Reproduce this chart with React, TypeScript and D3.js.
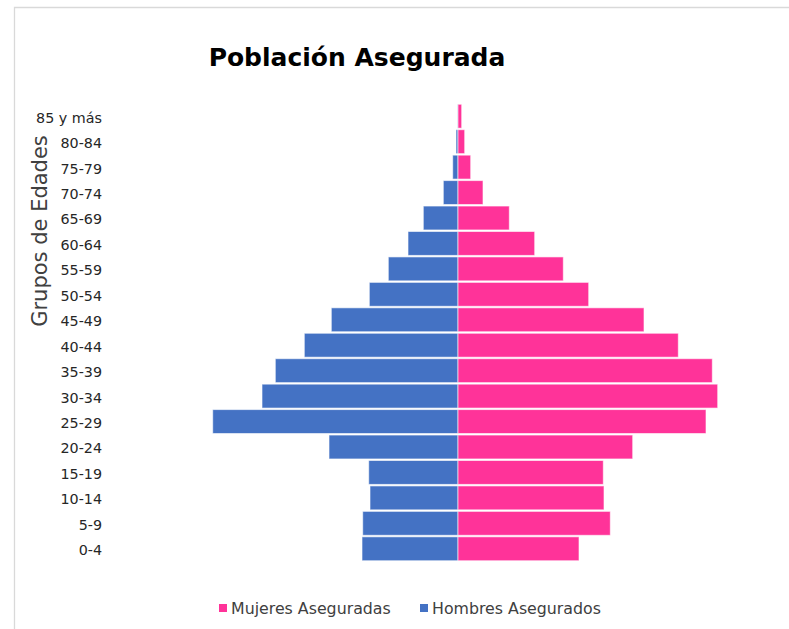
import React, {useEffect, useRef} from "react";
import * as d3 from "d3";

// age groups, bottom to top
const grupos = ["0-4", "5-9", "10-14", "15-19", "20-24", "25-29", "30-34", "35-39", "40-44",
  "45-49", "50-54", "55-59", "60-64", "65-69", "70-74", "75-79", "80-84", "85 y más"];

const hombres = [9600, 9530, 8800, 8930, 12900, 24530, 19600, 18270, 15370,
  12670, 8870, 6970, 5000, 3470, 1470, 530, 200, 50];

const mujeres = [12100, 15230, 14600, 14530, 17470, 24800, 25970, 25430, 22030,
  18600, 13070, 10530, 7670, 5130, 2500, 1270, 670, 370];

const series = [
  {name: "Mujeres Aseguradas", color: "#FF3399"},
  {name: "Hombres Asegurados", color: "#4472C4"}
];

const W = 789, H = 629;
const FONT = "'DejaVu Sans', sans-serif";

const App = () => {
  const refy = useRef(null);

  const x = d3.scaleLinear().domain([-27000, 27000]).range([188, 728]);
  const y = d3.scaleBand()
    .domain(grupos.slice().reverse())
    .range([103.5, 561.5])
    .paddingInner(0.06)
    .paddingOuter(0.03);

  useEffect(() => {
    const axis = d3.axisLeft(y).tickSize(0).tickPadding(0);
    const g = d3.select(refy.current);
    g.call(axis);
    g.select(".domain").remove();
    g.selectAll("text")
      .attr("font-family", FONT)
      .attr("font-size", 14.3)
      .attr("dy", "0.45em")
      .attr("fill", "#262626");
  }, []);

  return (
    <svg width={W} height={H} style={{position: "absolute", left: 0, top: 0, background: "#fff"}}>
      <rect x={0} y={0} width={W} height={H} fill="#fff"/>
      {/* chart frame, cut off on right and bottom */}
      <path d={`M14.5,${H} V7.5 H${W}`} fill="none" stroke="#d9d9d9" strokeWidth={1.3}/>

      <text x={357} y={66} textAnchor="middle" fontFamily={FONT} fontWeight="bold"
        fontSize={25} fill="#000">Población Asegurada</text>

      <text transform={`translate(47,231) rotate(-90)`} textAnchor="middle"
        fontFamily={FONT} fontSize={21} fill="#404040">Grupos de Edades</text>

      <g className="y axis" transform="translate(102,0)" ref={refy}/>

      <g>
        {grupos.map((gr, i) => (
          <rect key={"h" + gr} x={x(-hombres[i])} y={y(gr)} width={x(0) - x(-hombres[i])}
            height={y.bandwidth()} fill={series[1].color} stroke="#fff" strokeOpacity={0.6} strokeWidth={1}/>
        ))}
        {grupos.map((gr, i) => (
          <rect key={"m" + gr} x={x(0)} y={y(gr)} width={x(mujeres[i]) - x(0)}
            height={y.bandwidth()} fill={series[0].color} stroke="#fff" strokeOpacity={0.6} strokeWidth={1}/>
        ))}
      </g>

      <g fontFamily={FONT} fontSize={15.8} fill="#404040">
        <rect x={219} y={604} width={8} height={8} fill={series[0].color}/>
        <text x={231} y={614}>{series[0].name}</text>
        <rect x={420} y={604} width={8} height={8} fill={series[1].color}/>
        <text x={432} y={614}>{series[1].name}</text>
      </g>
    </svg>
  );
};

export default App;
